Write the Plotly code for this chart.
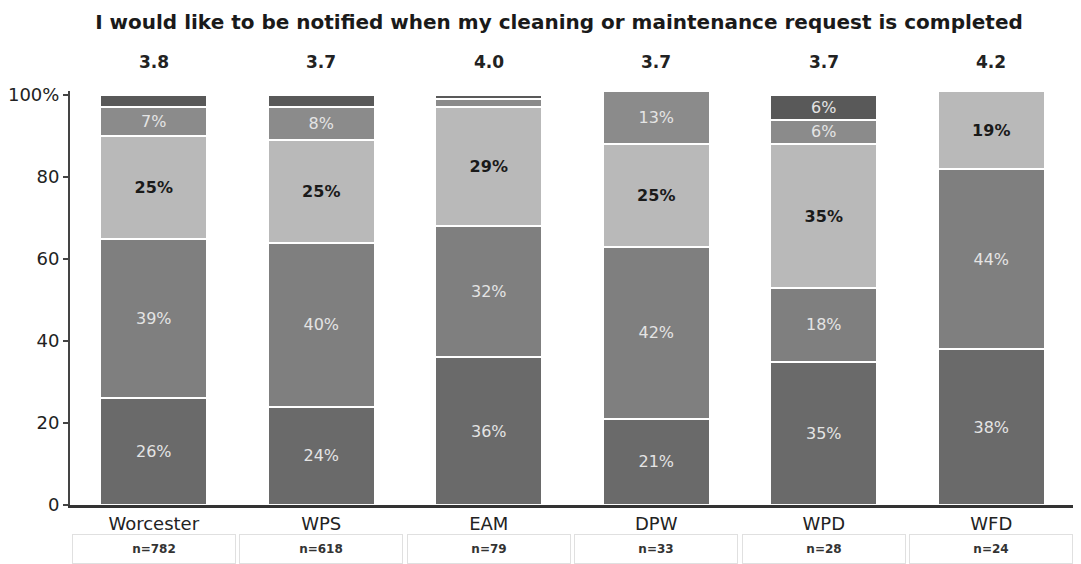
import plotly.graph_objects as go

categories = ["Worcester", "WPS", "EAM", "DPW", "WPD", "WFD"]
n_labels = ["n=782", "n=618", "n=79", "n=33", "n=28", "n=24"]
means = ["3.8", "3.7", "4.0", "3.7", "3.7", "4.2"]

# stacked from bottom to top
strongly_agree = [26, 24, 36, 21, 35, 38]
agree = [39, 40, 32, 42, 18, 44]
neutral = [25, 25, 29, 25, 35, 19]
disagree = [7, 8, 2, 13, 6, 0]
strongly_disagree = [3, 3, 1, 0, 6, 0]

series = [
    ("Strongly agree", strongly_agree, "#6a6a6a", "#e4e4e4", False),
    ("Agree", agree, "#7f7f7f", "#e4e4e4", False),
    ("Neutral", neutral, "#b9b9b9", "#1a1a1a", True),
    ("Disagree", disagree, "#8b8b8b", "#e4e4e4", False),
    ("Strongly disagree", strongly_disagree, "#595959", "#e4e4e4", False),
]

fig = go.Figure()
for name, vals, color, tcolor, bold in series:
    texts = []
    for v in vals:
        if v >= 5:
            texts.append(f"<b>{v}%</b>" if bold else f"{v}%")
        else:
            texts.append("")
    fig.add_trace(go.Bar(
        x=categories, y=vals, name=name,
        marker=dict(color=color, line=dict(color="white", width=2)),
        text=texts, textposition="inside", insidetextanchor="middle",
        textfont=dict(family="DejaVu Sans", size=17 if bold else 16, color=tcolor),
        hoverinfo="skip",
    ))

for c, m in zip(categories, means):
    fig.add_annotation(x=c, y=1.0, xref="x", yref="paper", yanchor="middle",
                       yshift=29, text=f"<b>{m}</b>", showarrow=False,
                       font=dict(family="DejaVu Sans", size=17, color="#222"))

for c, nl in zip(categories, n_labels):
    fig.add_annotation(x=c, y=0, xref="x", yref="paper", yanchor="middle",
                       yshift=-44, text=f"<b>{nl}</b>", showarrow=False,
                       width=160, height=26,
                       bordercolor="#e0e0e0", borderwidth=1,
                       font=dict(family="DejaVu Sans", size=12, color="#333"))

fig.update_layout(
    width=1073, height=556,
    barmode="stack", bargap=0.36,
    showlegend=False,
    paper_bgcolor="white", plot_bgcolor="white",
    margin=dict(l=62, r=6, t=83, b=59),
    title=dict(text="<b>I would like to be notified when my cleaning or maintenance request is completed</b>",
               x=0.5135, xanchor="center", y=0.975, yanchor="middle",
               font=dict(family="DejaVu Sans", size=20, color="#1a1a1a")),
    uniformtext=dict(minsize=16, mode="show"),
)
fig.update_xaxes(showline=True, linecolor="#333", linewidth=3, ticks="",
                 tickfont=dict(family="DejaVu Sans", size=18, color="#222"),
                 ticklabelstandoff=0, automargin=False,
                 showgrid=False)
fig.update_yaxes(range=[0, 101], tickvals=[0, 20, 40, 60, 80, 100],
                 ticktext=["0", "20", "40", "60", "80", "100%"],
                 showline=True, linecolor="#444", linewidth=2,
                 ticks="outside", ticklen=5, tickcolor="#444", tickwidth=2,
                 tickfont=dict(family="DejaVu Sans", size=18, color="#222"),
                 automargin=False,
                 showgrid=False, zeroline=False)

fig.write_html("out.html")
